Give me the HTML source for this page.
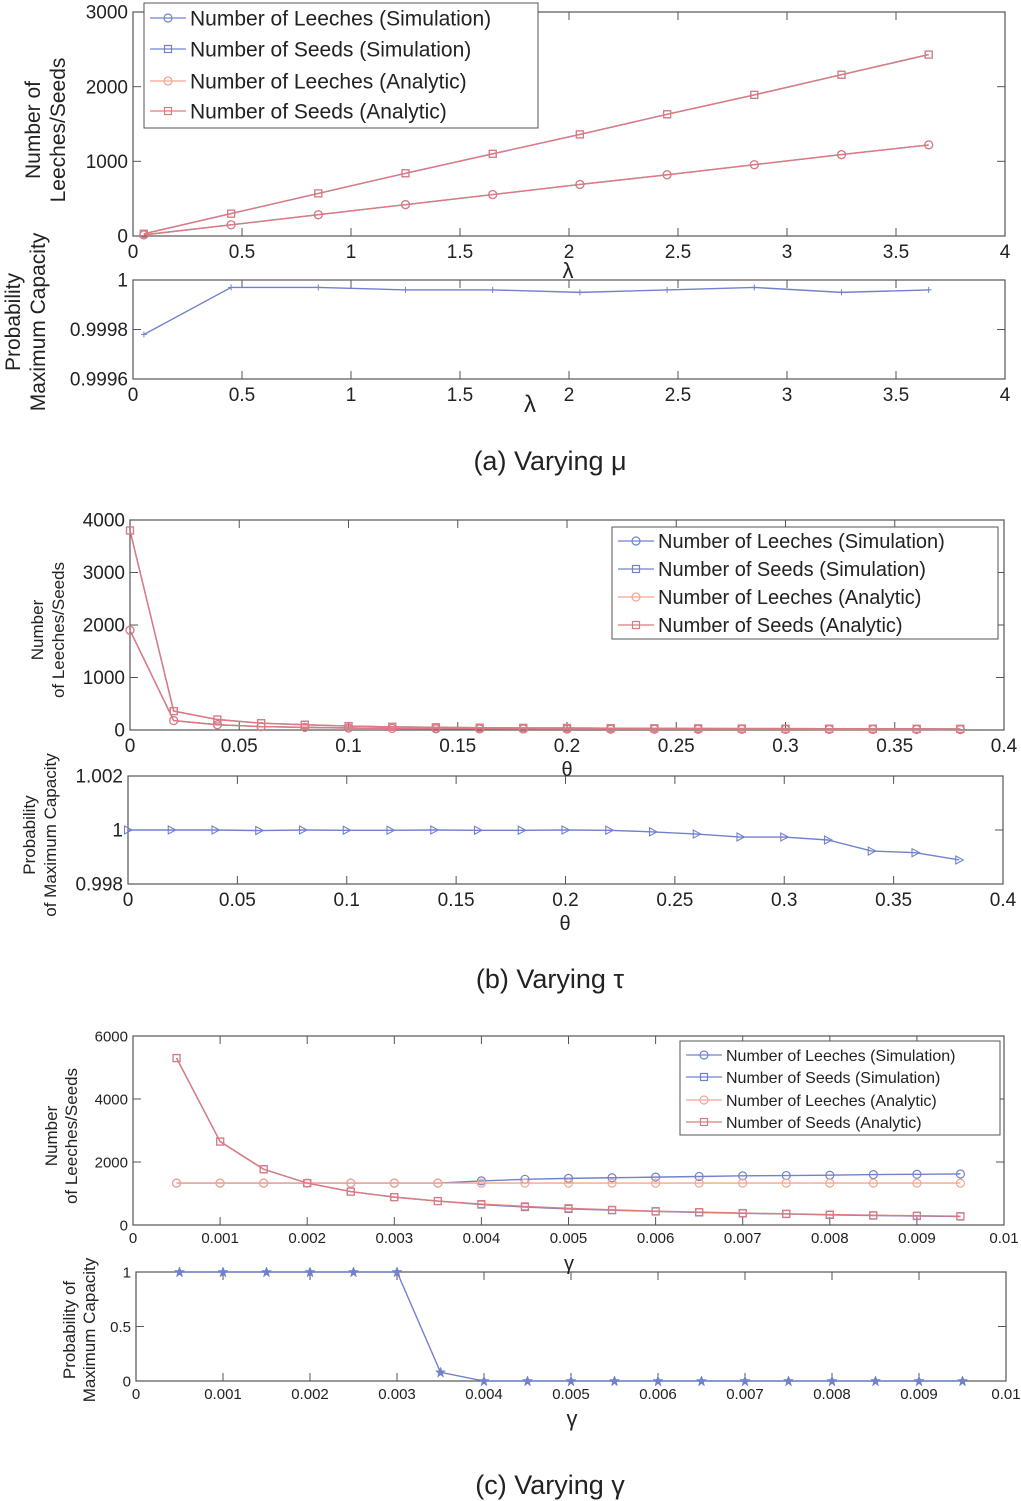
<!DOCTYPE html>
<html><head><meta charset="utf-8">
<style>
html,body{margin:0;padding:0;background:#fff;}
svg{display:block;font-family:"Liberation Sans",sans-serif;}
</style></head>
<body>
<svg id="fig" width="1021" height="1501" viewBox="0 0 1021 1501"></svg>
<script>
// ---- data ----
const aX = [0.05,0.45,0.85,1.25,1.65,2.05,2.45,2.85,3.25,3.65];
const aSeeds = [30,300,570,840,1100,1360,1630,1890,2160,2430];
const aLeeches = [15,150,285,420,555,690,820,955,1090,1220];
const aProb = [0.99978,0.99997,0.99997,0.99996,0.99996,0.99995,0.99996,0.99997,0.99995,0.99996];
const bX = [0,0.02,0.04,0.06,0.08,0.1,0.12,0.14,0.16,0.18,0.2,0.22,0.24,0.26,0.28,0.3,0.32,0.34,0.36,0.38];
const bSeeds = [3800,360,200,130,100,75,60,50,45,40,38,35,32,30,28,26,25,24,22,21];
const bLeeches = [1900,180,100,65,50,38,30,25,22,20,19,17,16,15,14,13,12,12,11,10];
const bProb = [1,1,1,0.99998,1,0.99999,0.99999,1,0.99999,0.99999,1,0.99999,0.99993,0.99985,0.99974,0.99974,0.99963,0.99922,0.99916,0.99889];
const cX = [0.0005,0.001,0.0015,0.002,0.0025,0.003,0.0035,0.004,0.0045,0.005,0.0055,0.006,0.0065,0.007,0.0075,0.008,0.0085,0.009,0.0095];
const cSeedsA = [5300,2650,1770,1330,1060,885,760,665,590,530,480,440,410,380,355,330,310,295,280];
const cSeedsS = [5300,2650,1770,1330,1060,885,760,650,570,510,470,430,400,370,350,320,300,285,270];
const cLeechA = [1330,1330,1330,1330,1330,1330,1330,1330,1330,1330,1330,1330,1330,1330,1330,1330,1330,1330,1330];
const cLeechS = [1330,1330,1330,1330,1330,1330,1330,1400,1450,1480,1500,1520,1540,1560,1570,1580,1600,1610,1620];
const cProb = [1,1,1,1,1,1,0.08,0,0,0,0,0,0,0,0,0,0,0,0];
const aXTicks = [0,0.5,1,1.5,2,2.5,3,3.5,4];
const aYTicks = [0,1000,2000,3000];
const aPTicks = [0.9996,0.9998,1];
const bXTicks = [0,0.05,0.1,0.15,0.2,0.25,0.3,0.35,0.4];
const bYTicks = [0,1000,2000,3000,4000];
const bPTicks = [0.998,1,1.002];
const cXTicks = [0,0.001,0.002,0.003,0.004,0.005,0.006,0.007,0.008,0.009,0.01];
const cYTicks = [0,2000,4000,6000];
const cPTicks = [0,0.5,1];

const NS="http://www.w3.org/2000/svg";
const svg=document.getElementById('fig');
const BLUE="#7281cf", RED="#df7a7e", ORANGE="#f5a58f";
function mk(tag,attrs,parent){const e=document.createElementNS(NS,tag);for(const k in attrs)e.setAttribute(k,attrs[k]);(parent||svg).appendChild(e);return e;}
function txt(x,y,s,size,anchor,parent){const t=mk('text',{x:x,y:y,'font-size':size,'text-anchor':anchor||'middle',fill:'#222'},parent);t.textContent=s;return t;}

function axes(name,L,R,T,B,xmin,xmax,ymin,ymax,xt,yt,fs,fmtY){
  const g=mk('g',{});
  
  
  const sx=v=>L+(v-xmin)/(xmax-xmin)*(R-L);
  const sy=v=>B-(v-ymin)/(ymax-ymin)*(B-T);
  mk('rect',{x:L,y:T,width:R-L,height:B-T,fill:'none',stroke:'#555','stroke-width':1.2},g);
  xt.forEach(v=>{const x=sx(v);
    mk('line',{x1:x,x2:x,y1:B,y2:B-8,stroke:'#555'},g);mk('line',{x1:x,x2:x,y1:T,y2:T+8,stroke:'#555'},g);
    const t=txt(x,B+fs+3,String(v),fs,'middle',g);
    
    });
  yt.forEach(v=>{const y=sy(v);
    mk('line',{x1:L,x2:L+8,y1:y,y2:y,stroke:'#555'},g);mk('line',{x1:R,x2:R-8,y1:y,y2:y,stroke:'#555'},g);
    const t=txt(L-5,y+fs*0.35,fmtY?fmtY(v):String(v),fs,'end',g);
    
    });
  return {sx,sy,g};
}
function marker(ax,type,x,y,color){
  const g=ax.g;
  if(type==='o')mk('circle',{cx:x,cy:y,r:4,fill:'none',stroke:color,'stroke-width':1.2},g);
  else if(type==='s')mk('rect',{x:x-3.5,y:y-3.5,width:7,height:7,fill:'none',stroke:color,'stroke-width':1.2},g);
  else if(type==='+'){mk('line',{x1:x-3,x2:x+3,y1:y,y2:y,stroke:color},g);mk('line',{x1:x,x2:x,y1:y-3,y2:y+3,stroke:color},g);}
  else if(type==='>')mk('polygon',{points:`${x-3.5},${y-4} ${x+4},${y} ${x-3.5},${y+4}`,fill:'none',stroke:color,'stroke-width':1.1},g);
  else if(type==='*')mk('polygon',{points:`${x},${y-5} ${x+1.5},${y-1.5} ${x+5},${y-1.5} ${x+2},${y+1} ${x+3},${y+5} ${x},${y+2.5} ${x-3},${y+5} ${x-2},${y+1} ${x-5},${y-1.5} ${x-1.5},${y-1.5}`,fill:color,stroke:color,'stroke-width':0.5},g);
}
function series(ax,name,xs,ys,color,type){
  const pts=xs.map((v,i)=>ax.sx(v)+','+ax.sy(ys[i])).join(' ');
  const pl=mk('polyline',{points:pts,fill:'none',stroke:color,'stroke-width':1.4},ax.g);
  
  
  xs.forEach((v,i)=>marker(ax,type,ax.sx(v),ax.sy(ys[i]),color));
}
function legend(name,x,y,w,h,rows,fs,lineW){
  const g=mk('g',{});
  
  
  mk('rect',{x:x,y:y,width:w,height:h,fill:'#fff',stroke:'#555','stroke-width':1},g);
  const items=[['Number of Leeches (Simulation)',BLUE,'o'],['Number of Seeds (Simulation)',BLUE,'s'],['Number of Leeches (Analytic)',ORANGE,'o'],['Number of Seeds (Analytic)',RED,'s']];
  items.forEach((it,i)=>{const yy=rows[i];
    const e=mk('g',{},g);
    
    
    mk('line',{x1:x+6,x2:x+6+lineW,y1:yy,y2:yy,stroke:it[1],'stroke-width':1.3},e);
    marker({g:e},it[2],x+6+lineW/2,yy,it[1]);
    txt(x+10+lineW,yy+fs*0.36,it[0],fs,'start',e);});
}
function vtitle(name,x,y,lines,fs,gap){
  const g=mk('g',{transform:`translate(${x},${y}) rotate(-90)`});
  
  
  lines.forEach((s,i)=>txt(0,i*gap,s,fs,'middle',g));
}
function label(name,x,y,s,fs){const t=txt(x,y,s,fs,'middle');
  
  return t;}

// ---- (a) ----
const A1=axes('plot-a-counts',133,1005,12,236,0,4,0,3000,aXTicks,aYTicks,19);
series(A1,'a-leeches-sim',aX,aLeeches,BLUE,'o');
series(A1,'a-seeds-sim',aX,aSeeds,BLUE,'s');
series(A1,'a-leeches-analytic',aX,aLeeches,RED,'o');
series(A1,'a-seeds-analytic',aX,aSeeds,RED,'s');
legend('legend-a',144,3,394,125,[18,49,81,111],21,36);
const A2=axes('plot-a-prob',133,1005,280,379,0,4,0.9996,1,aXTicks,aPTicks,19);
series(A2,'a-prob',aX,aProb,BLUE,'+');
label('x-axis-title-a1',568,278,'λ',22);
label('x-axis-title-a2',530,412,'λ',24);
vtitle('y-axis-title-a1',40,130,['Number of','Leeches/Seeds'],21,25);
vtitle('y-axis-title-a2',20,322,['Probability','Maximum Capacity'],21,25);
label('caption-a',550,470,'(a)  Varying μ',27);

// ---- (b) ----
const B1=axes('plot-b-counts',130,1004,520,730,0,0.4,0,4000,bXTicks,bYTicks,19);
series(B1,'b-leeches-sim',bX,bLeeches,BLUE,'o');
series(B1,'b-seeds-sim',bX,bSeeds,BLUE,'s');
series(B1,'b-leeches-analytic',bX,bLeeches,RED,'o');
series(B1,'b-seeds-analytic',bX,bSeeds,RED,'s');
legend('legend-b',612,527,386,112,[541,569,597,625],20,36);
const B2=axes('plot-b-prob',128,1003,776,884,0,0.4,0.998,1.002,bXTicks,bPTicks,19);
series(B2,'b-prob',bX,bProb,BLUE,'>');
label('x-axis-title-b1',567,776,'θ',20);
label('x-axis-title-b2',565,930,'θ',20);
vtitle('y-axis-title-b1',43,630,['Number','of Leeches/Seeds'],17,21);
vtitle('y-axis-title-b2',35,835,['Probability','of Maximum Capacity'],17,21);
label('caption-b',550,988,'(b)  Varying τ',27);

// ---- (c) ----
const C1=axes('plot-c-counts',133,1004,1036,1225,0,0.01,0,6000,cXTicks,cYTicks,15);
series(C1,'c-leeches-sim',cX,cLeechS,BLUE,'o');
series(C1,'c-seeds-sim',cX,cSeedsS,BLUE,'s');
series(C1,'c-leeches-analytic',cX,cLeechA,ORANGE,'o');
series(C1,'c-seeds-analytic',cX,cSeedsA,RED,'s');
legend('legend-c',680,1041,320,94,[1055,1077,1100,1122],16,36);
const C2=axes('plot-c-prob',136,1006,1272,1381,0,0.01,0,1,cXTicks,cPTicks,15);
series(C2,'c-prob',cX,cProb,BLUE,'*');
label('x-axis-title-c1',569,1270,'γ',20);
label('x-axis-title-c2',572,1426,'γ',22);
vtitle('y-axis-title-c1',57,1136,['Number','of Leeches/Seeds'],17,20);
vtitle('y-axis-title-c2',75,1330,['Probability of','Maximum Capacity'],17,20);
label('caption-c',550,1494,'(c)  Varying γ',27);
</script>
</body></html>
